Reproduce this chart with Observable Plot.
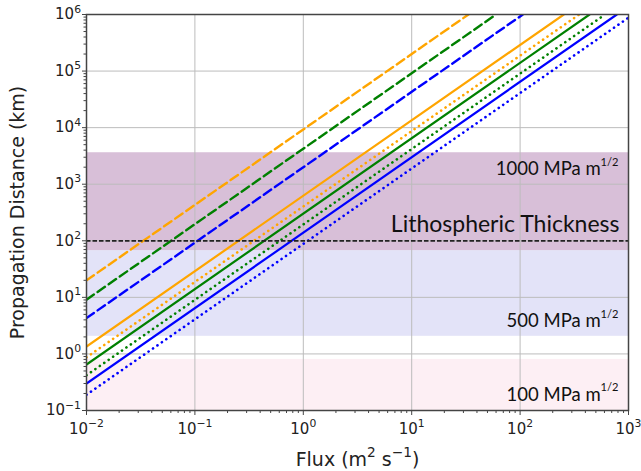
<!DOCTYPE html>
<html>
<head>
<meta charset="utf-8">
<script src="https://cdn.jsdelivr.net/npm/d3@7"></script>
<script src="https://cdn.jsdelivr.net/npm/@observablehq/plot@0.6"></script>
<style>
  html, body { margin: 0; padding: 0; background: #fff; }
</style>
</head>
<body>
<div id="chart"></div>
<script>
// ---- data ----
const xTicks = [0.01, 0.1, 1, 10, 100, 1000];
const xTickLabels = ["10^\u22122", "10^\u22121", "10^0", "10^1", "10^2", "10^3"];
const yTicks = [0.1, 1, 10, 100, 1000, 10000, 100000, 1000000];
const yTickLabels = ["10^\u22121", "10^0", "10^1", "10^2", "10^3", "10^4", "10^5", "10^6"];

// background bands (km)
const bandLow = [0.1, 2.05, 67];
const bandHigh = [0.8, 67, 3600];
const bandColors = ["#fdeff4", "#e3e3f8", "#d8bfd8"];
const bandLabels = ["100 MPa m^1/2", "500 MPa m^1/2", "1000 MPa m^1/2"];

// lithospheric thickness (km)
const lithoThickness = [100];
const lithoLabel = "Lithospheric Thickness";

// axis titles
const xTitle = "Flux (m^2 s^\u22121)";
const yTitle = "Propagation Distance (km)";

// curves: start and end points
const seriesColor = ["orange", "green", "blue", "orange", "orange", "green", "green", "blue", "blue"];
const seriesStyle = ["dashed", "dashed", "dashed", "solid", "dotted", "solid", "dotted", "solid", "dotted"];
const startFlux = [0.01, 0.01, 0.01, 0.01, 0.01, 0.01, 0.01, 0.01, 0.01];
const startDist = [20, 9.1, 4.3, 1.35, 0.87, 0.65, 0.42, 0.30, 0.19];
const endFlux = [33.4, 60, 106, 253, 351, 437, 608, 780, 1000];
const endDist = [1e6, 1e6, 1e6, 1e6, 1e6, 1e6, 1e6, 1e6, 8.8e5];

// ---- build tables ----
const curves = [];
seriesColor.forEach((c, i) => {
  curves.push({id: i, color: c, style: seriesStyle[i], flux: startFlux[i], dist: startDist[i]});
  curves.push({id: i, color: c, style: seriesStyle[i], flux: endFlux[i], dist: endDist[i]});
});
const bands = bandLow.map((lo, i) => ({lo, hi: bandHigh[i], color: bandColors[i]}));

const minorX = [];
for (let k = -2; k < 3; k++) for (let m = 2; m <= 9; m++) minorX.push(m * Math.pow(10, k));
const minorY = [];
for (let k = -1; k < 6; k++) for (let m = 2; m <= 9; m++) minorY.push(m * Math.pow(10, k));

const styleMarks = [
  Plot.line(curves.filter(d => d.style === "solid"), {
    x: "flux", y: "dist", z: "id", stroke: "color", strokeWidth: 2.2, clip: true}),
  Plot.line(curves.filter(d => d.style === "dashed"), {
    x: "flux", y: "dist", z: "id", stroke: "color", strokeWidth: 2.4,
    strokeDasharray: "9,4.5", clip: true}),
  Plot.line(curves.filter(d => d.style === "dotted"), {
    x: "flux", y: "dist", z: "id", stroke: "color", strokeWidth: 2.6,
    strokeDasharray: "0.1,5.3", strokeLinecap: "round", clip: true})
];

const labelFont = "Lato, 'Open Sans', sans-serif";
const labelCenters = [394.3, 320.7, 169]; // pixel rows of label centres
const labelMarks = bandLabels.map((t, i) =>
  Plot.text([t], {frameAnchor: "top-right", textAnchor: "end", lineAnchor: "middle",
    dx: -10, dy: labelCenters[i] - 14, fontSize: 18.5, fontFamily: labelFont, fill: "#111",
    className: "suplabel"}));

const chart = Plot.plot({
  width: 641,
  height: 471,
  marginLeft: 86,
  marginRight: 13,
  marginTop: 14,
  marginBottom: 61,
  style: {fontFamily: "'DejaVu Sans', sans-serif", background: "#fff", color: "#222"},
  x: {type: "log", domain: [0.01, 1000]},
  y: {type: "log", domain: [0.1, 1e6]},
  marks: [
    Plot.rect(bands, {x1: () => 0.01, x2: () => 1000, y1: "lo", y2: "hi", fill: "color"}),
    Plot.gridX(xTicks, {stroke: "#bcbcbc", strokeOpacity: 1, strokeWidth: 1}),
    Plot.gridY(yTicks, {stroke: "#bcbcbc", strokeOpacity: 1, strokeWidth: 1}),
    ...styleMarks,
    Plot.ruleY(lithoThickness, {stroke: "#222", strokeWidth: 1.7, strokeDasharray: "4.5,2"}),
    Plot.text([lithoLabel], {frameAnchor: "top-right", textAnchor: "end", lineAnchor: "middle",
      dx: -9, dy: 224.3 - 14, fontSize: 23, fontFamily: labelFont, fill: "#111"}),
    ...labelMarks,
    Plot.axisX(minorX, {tickSize: 3, tickFormat: () => "", label: null, stroke: "#444"}),
    Plot.axisY(minorY, {tickSize: 2.5, tickFormat: () => "", label: null, stroke: "#444"}),
    Plot.axisX(xTicks, {tickSize: 5, tickPadding: 8, fontSize: 15,
      tickFormat: d => xTickLabels[xTicks.indexOf(d)], label: null, stroke: "#444"}),
    Plot.axisY(yTicks, {tickSize: 4, tickPadding: 1.5, fontSize: 15,
      tickFormat: d => yTickLabels[yTicks.indexOf(d)], label: null, stroke: "#444"}),
    Plot.frame({stroke: "#444", strokeWidth: 1.5}),
    Plot.text([xTitle], {frameAnchor: "bottom", lineAnchor: "middle",
      dy: 49, fontSize: 19, fill: "#222"}),
    Plot.text([yTitle], {frameAnchor: "left", textAnchor: "middle", lineAnchor: "middle",
      rotate: -90, dx: -68.5, fontSize: 19, fill: "#222"})
  ]
});

// render "^" exponents as real superscripts (tspans)
const NS = "http://www.w3.org/2000/svg";
chart.querySelectorAll("text").forEach(t => {
  const targets = t.querySelectorAll("tspan").length ? [...t.querySelectorAll("tspan")] : [t];
  targets.forEach(node => {
    const s = node.textContent;
    if (!s.includes("^")) return;
    const isBand = !!node.closest(".suplabel");
    const supSize = isBand ? 0.6 : 0.72;
    const rise = isBand ? 0.5 : 0.45;
    node.textContent = "";
    const re = /\^([^\s)]+)/g;
    let last = 0, m;
    const parts = [];
    while ((m = re.exec(s))) {
      if (m.index > last) parts.push({txt: s.slice(last, m.index), sup: false});
      parts.push({txt: m[1], sup: true});
      last = re.lastIndex;
    }
    if (last < s.length) parts.push({txt: s.slice(last), sup: false});
    let raised = false;
    parts.forEach(p => {
      const ts = document.createElementNS(NS, "tspan");
      ts.textContent = p.txt;
      if (p.sup) {
        ts.setAttribute("font-size", `${supSize}em`);
        // dy in tspan's own em: convert parent-em rise
        ts.setAttribute("dy", raised ? "0" : `-${(rise / supSize).toFixed(3)}em`);
        raised = true;
      } else {
        if (raised) ts.setAttribute("dy", `${rise}em`);
        raised = false;
      }
      node.appendChild(ts);
    });
  });
});

document.getElementById("chart").appendChild(chart);
</script>
</body>
</html>
